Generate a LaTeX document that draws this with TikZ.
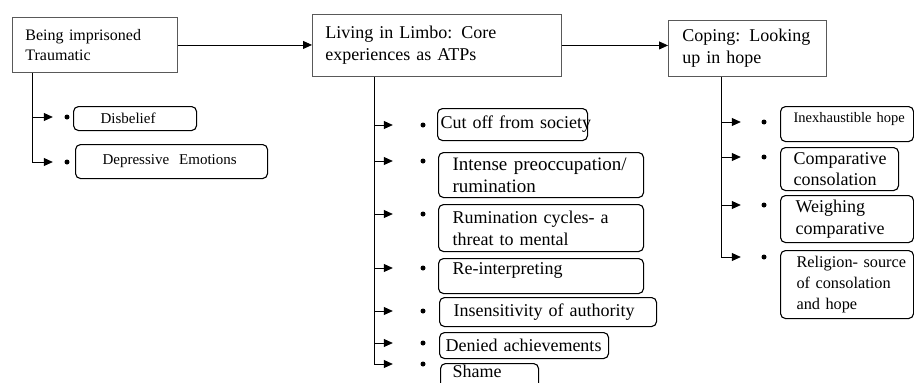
\documentclass[tikz,border=0pt]{standalone}
\usepackage{fontspec}
\setmainfont{Liberation Serif}
\usetikzlibrary{arrows.meta}
\begin{document}
\begin{tikzpicture}[x=1pt,y=-1pt,
  mainbox/.style={draw=black!65, line width=0.9pt, anchor=north west, align=left, inner ysep=0pt},
  subbox/.style={draw, line width=1.1pt, rounded corners=5pt, anchor=north west, align=left, inner ysep=0pt},
  fa/.style={font=\fontsize{18}{21.7}\selectfont},
  fb/.style={font=\fontsize{16}{20}\selectfont},
  fc/.style={font=\fontsize{15}{18}\selectfont},
  dot/.style={circle, fill, inner sep=0pt, minimum size=5pt},
  arr/.style={-{Triangle[length=9pt,width=8pt]}, line width=0.8pt},
  trunk/.style={line width=0.8pt}
]
\useasboundingbox (0,0) rectangle (914,383);
\clip (0,0) rectangle (914,383);

% main boxes
\node[mainbox, fb, minimum width=165pt, minimum height=55pt, inner xsep=13pt, text width=139pt] (b1) at (12,17) {Being imprisoned\\Traumatic};
\node[mainbox, fa, minimum width=249pt, minimum height=62pt, inner xsep=13pt, text width=223pt] (b2) at (312,14) {Living in Limbo: Core\\experiences as ATPs};
\node[mainbox, fa, minimum width=158pt, minimum height=56pt, inner xsep=14pt, text width=130pt] (b3) at (668,20) {\mbox{Coping: Looking}\\up in hope};

\draw[arr] (b1.east) -- (b1.east -| b2.west);
\draw[arr] (b2.east) -- (b2.east -| b3.west);

% left column
\coordinate (t1) at (32,162);
\node[dot] (d11) at (67,117) {};
\node[dot] (d12) at (67,162) {};
\draw[trunk] (b1.south -| t1) -- (t1);
\draw[arr, shorten >=11.5pt] (t1 |- d11) -- (d11);
\draw[arr, shorten >=11.5pt] (t1 |- d12) -- (d12);
\node[subbox, fc, minimum width=123pt, minimum height=24pt, inner xsep=27pt, text width=69pt] (s11) at (73,106) {Disbelief};
\node[subbox, fc, minimum width=192pt, minimum height=34pt, inner xsep=27pt, text width=138pt] (s12) at (75,144) {Depressive\ \ Emotions};

% middle column
\coordinate (t2) at (374,364);
\node[dot] (d21) at (423,125) {};
\node[dot] (d22) at (423,161) {};
\node[dot] (d23) at (423,214) {};
\node[dot] (d24) at (423,268) {};
\node[dot] (d25) at (423,311) {};
\node[dot] (d26) at (423,343) {};
\node[dot] (d27) at (423,364) {};
\draw[trunk] (b2.south -| t2) -- (t2);
\foreach \i in {21,22,23,24,25,26,27}
  \draw[arr, shorten >=27.5pt] (t2 |- d\i) -- (d\i);
\node[subbox, fa, minimum width=150pt, minimum height=32pt, inner xsep=3pt, text width=144pt] (s21) at (437,108) {\mbox{Cut off from society}};
\node[subbox, font=\fontsize{19}{21.7}\selectfont, minimum width=205pt, minimum height=45pt, inner xsep=14pt, text width=177pt] (s22) at (438,152) {\mbox{Intense preoccupation/}\\rumination};
\node[subbox, fa, minimum width=205pt, minimum height=47pt, inner xsep=14pt, text width=177pt] (s23) at (438,204) {\mbox{Rumination cycles- a}\\threat to mental};
\node[subbox, fa, minimum width=205pt, minimum height=35pt, inner xsep=14pt, text width=177pt, text depth=15pt] (s24) at (438,258) {Re-interpreting};
\node[subbox, fa, minimum width=217pt, minimum height=29pt, inner xsep=14pt, text width=189pt] (s25) at (439,297) {\mbox{Insensitivity of authority}};
\node[subbox, fa, minimum width=169pt, minimum height=26pt, inner xsep=6pt, text width=157pt] (s26) at (439,332) {\mbox{Denied achievements}};
\node[subbox, fa, minimum width=98pt, minimum height=26pt, inner xsep=12pt, text width=74pt, text depth=11pt] (s27) at (440,363) {Shame};

% right column
\coordinate (t3) at (721,258);
\node[dot] (d31) at (764,122) {};
\node[dot] (d32) at (764,157) {};
\node[dot] (d33) at (764,205) {};
\node[dot] (d34) at (764,257) {};
\draw[trunk] (b3.south -| t3) -- (t3);
\foreach \i in {31,32,33,34}
  \draw[arr, shorten >=20.5pt] (t3 |- d\i) -- (d\i);
\node[subbox, font=\fontsize{14.5}{17}\selectfont, minimum width=133pt, minimum height=35pt, inner xsep=13pt, text width=107pt, text depth=14pt] (s31) at (780,106) {\mbox{Inexhaustible hope}};
\node[subbox, fa, minimum width=118pt, minimum height=43pt, inner xsep=13pt, text width=92pt] (s32) at (780,147) {\mbox{Comparative}\\consolation};
\node[subbox, fa, minimum width=133pt, minimum height=47pt, inner xsep=15pt, text width=103pt] (s33) at (780,195) {Weighing\\comparative};
\node[subbox, font=\fontsize{16.3}{20.8}\selectfont, minimum width=133pt, minimum height=68pt, inner xsep=16pt, text width=101pt] (s34) at (780,250) {\mbox{Religion- source}\\\mbox{of consolation}\\and hope};
\end{tikzpicture}
\end{document}
